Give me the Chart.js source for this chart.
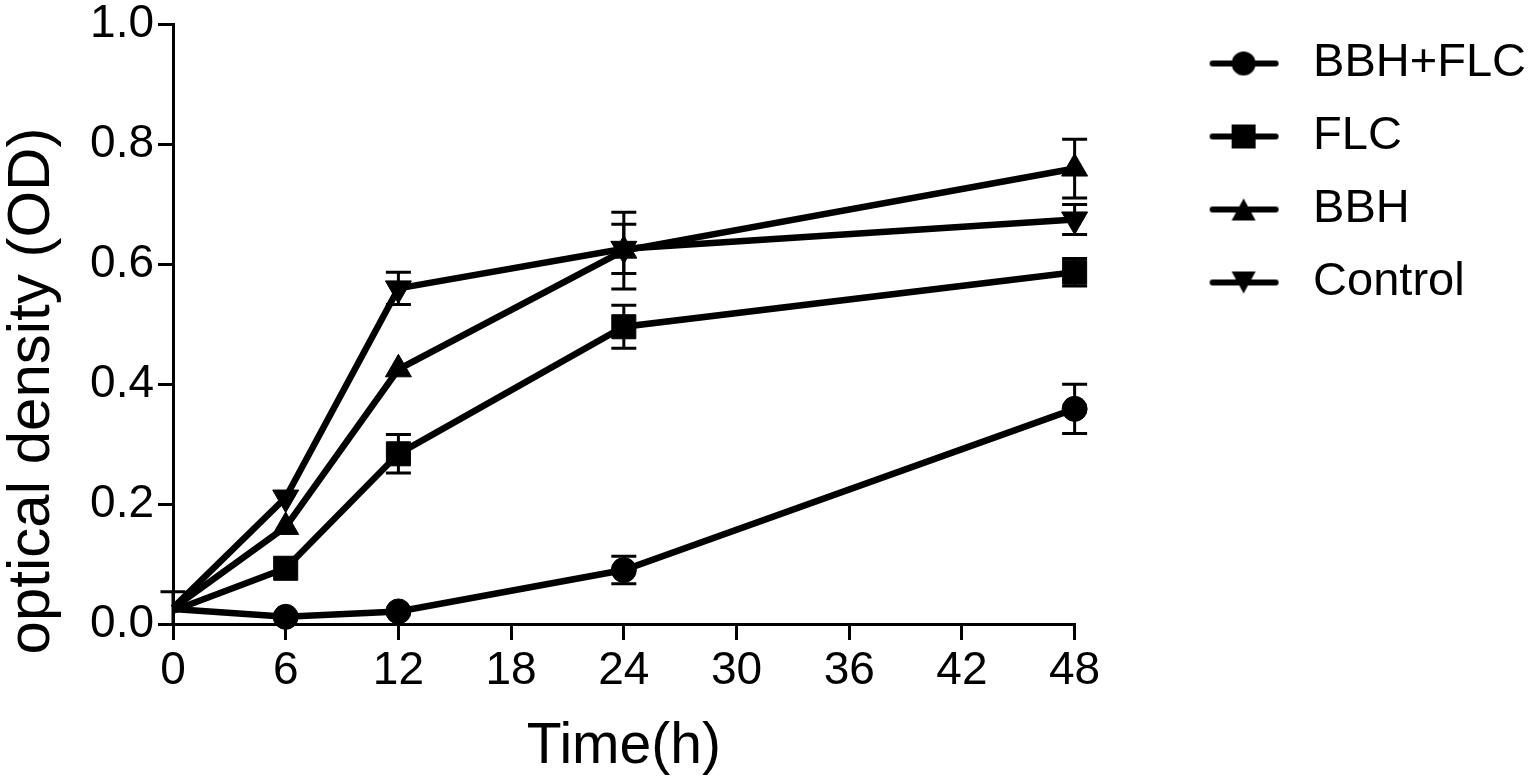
<!DOCTYPE html>
<html>
<head>
<meta charset="utf-8">
<title>optical density</title>
<script src="https://cdn.jsdelivr.net/npm/chart.js@4.4.1/dist/chart.umd.min.js"></script>
<style>
  html, body { margin: 0; padding: 0; background: #fff; }
  #wrap { width: 1538px; height: 784px; position: relative; }
</style>
</head>
<body>
<div id="wrap"><canvas id="chart"></canvas></div>
<script>
// data
var times = [0, 6, 12, 24, 48];
var xTicks = [0, 6, 12, 18, 24, 30, 36, 42, 48];
var yTicks = [0.0, 0.2, 0.4, 0.6, 0.8, 1.0];

var seriesNames = ['BBH+FLC', 'FLC', 'BBH', 'Control'];

var bbhFlc     = [0.025, 0.012, 0.021, 0.090, 0.359];
var bbhFlcErr  = [0.000, 0.000, 0.000, 0.023, 0.041];
var flc        = [0.022, 0.093, 0.284, 0.496, 0.587];
var flcErr     = [0.000, 0.000, 0.032, 0.036, 0.023];
var bbh        = [0.026, 0.162, 0.425, 0.623, 0.760];
var bbhErr     = [0.000, 0.000, 0.000, 0.064, 0.049];
var control    = [0.027, 0.211, 0.560, 0.626, 0.675];
var controlErr = [0.027, 0.000, 0.027, 0.041, 0.025];

var font = "'Liberation Sans', Arial, Helvetica, sans-serif";

function toPoints(vals) {
    return vals.map(function(v, i) { return {x: times[i], y: v}; });
}

// line+marker pictures for the legend (left part left empty as spacing)
function legendIcon(kind) {
    var c = document.createElement('canvas');
    c.width = 189;
    c.height = 34;
    var g = c.getContext('2d');
    g.strokeStyle = '#000';
    g.fillStyle = '#000';
    g.lineWidth = 6;
    g.lineCap = 'round';
    g.beginPath();
    g.moveTo(112, 17);
    g.lineTo(175, 17);
    g.stroke();
    g.beginPath();
    var cx = 143;
    if (kind === 'circle') {
        g.arc(cx, 17, 12, 0, Math.PI * 2);
    } else if (kind === 'rect') {
        g.rect(cx - 12, 5, 24, 24);
    } else if (kind === 'up') {
        g.moveTo(cx, 6); g.lineTo(cx + 12, 28); g.lineTo(cx - 12, 28); g.closePath();
    } else {
        g.moveTo(cx - 12, 6); g.lineTo(cx + 12, 6); g.lineTo(cx, 28); g.closePath();
    }
    g.fill();
    return c;
}
var icons = [legendIcon('circle'), legendIcon('rect'), legendIcon('up'), legendIcon('down')];

function makeSet(name, vals, errs, style, radius, rotation) {
    return {
        label: name,
        data: toPoints(vals),
        errors: errs,
        borderColor: '#000',
        backgroundColor: '#000',
        borderWidth: 6.5,
        tension: 0,
        pointStyle: style,
        pointRadius: vals.map(function(v, i) { return i === 0 ? 0 : radius; }),
        pointHoverRadius: radius,
        pointRotation: rotation,
        pointBackgroundColor: '#000',
        pointBorderColor: '#000',
        pointBorderWidth: 1,
        clip: false
    };
}

// vertical error bars with caps, placed through the chart scales
var errorBars = {
    id: 'errorBars',
    beforeDatasetsDraw: function(chart) {
        var ctx = chart.ctx;
        var xs = chart.scales.x, ys = chart.scales.y;
        ctx.save();
        ctx.strokeStyle = '#000';
        ctx.lineWidth = 3;
        chart.data.datasets.forEach(function(ds) {
            ds.data.forEach(function(p, j) {
                var e = ds.errors[j];
                if (!e) return;
                var px = xs.getPixelForValue(p.x);
                var top = ys.getPixelForValue(p.y + e);
                var bot = ys.getPixelForValue(Math.max(p.y - e, 0));
                ctx.beginPath();
                ctx.moveTo(px, top); ctx.lineTo(px, bot);
                ctx.moveTo(px - 12.5, top); ctx.lineTo(px + 12.5, top);
                if (p.y - e > 0) {
                    ctx.moveTo(px - 12.5, bot); ctx.lineTo(px + 12.5, bot);
                }
                ctx.stroke();
            });
        });
        ctx.restore();
    }
};

var ctx = document.getElementById('chart').getContext('2d');
var myChart = new Chart(ctx, {
    type: 'line',
    data: {
        datasets: [
            makeSet(seriesNames[0], bbhFlc, bbhFlcErr, 'circle', 12.5, 0),
            makeSet(seriesNames[1], flc, flcErr, 'rect', 17, 0),
            makeSet(seriesNames[2], bbh, bbhErr, 'triangle', 15, 0),
            makeSet(seriesNames[3], control, controlErr, 'triangle', 15, 180)
        ]
    },
    plugins: [errorBars],
    options: {
        responsive: true,
        maintainAspectRatio: false,
        animation: false,
        layout: { padding: { left: 0, right: 2, top: 0, bottom: 0 } },
        plugins: {
            tooltip: { enabled: false },
            legend: {
                position: 'right',
                align: 'start',
                maxWidth: 560,
                title: { display: true, text: '', padding: 0, font: { size: 14, lineHeight: 1 } },
                labels: {
                    usePointStyle: true,
                    pointStyleWidth: 189,
                    padding: 26,
                    color: '#000',
                    font: { family: font, size: 47 },
                    generateLabels: function(chart) {
                        var items = Chart.defaults.plugins.legend.labels.generateLabels(chart);
                        items.forEach(function(it, i) { it.pointStyle = icons[i]; it.rotation = 0; });
                        return items;
                    }
                }
            }
        },
        scales: {
            x: {
                type: 'linear',
                min: 0,
                max: 48,
                afterBuildTicks: function(s) { s.ticks = xTicks.map(function(v) { return {value: v}; }); },
                afterFit: function(s) { s.height = 160; },
                grid: { drawOnChartArea: false, drawTicks: true, tickLength: 16, color: '#000', lineWidth: 3 },
                border: { display: true, color: '#000', width: 3 },
                ticks: { color: '#000', padding: 4, font: { family: font, size: 46 }, maxRotation: 0 },
                title: {
                    display: true,
                    text: 'Time(h)',
                    color: '#000',
                    font: { family: font, size: 57, lineHeight: 1.2 },
                    padding: { top: 13, bottom: 3 }
                }
            },
            y: {
                type: 'linear',
                min: 0,
                max: 1,
                afterBuildTicks: function(s) { s.ticks = yTicks.map(function(v) { return {value: v}; }); },
                afterFit: function(s) { s.width = 173; },
                grid: { drawOnChartArea: false, drawTicks: true, tickLength: 15, color: '#000', lineWidth: 3 },
                border: { display: true, color: '#000', width: 3 },
                ticks: {
                    color: '#000',
                    padding: 4,
                    font: { family: font, size: 46, lineHeight: 0.9 },
                    callback: function(v) { return Number(v).toFixed(1); }
                },
                title: {
                    display: true,
                    text: 'optical density (OD)        ',
                    color: '#000',
                    font: { family: font, size: 60, lineHeight: 1 },
                    padding: { top: 2, bottom: 0 }
                }
            }
        }
    }
});
</script>
</body>
</html>
